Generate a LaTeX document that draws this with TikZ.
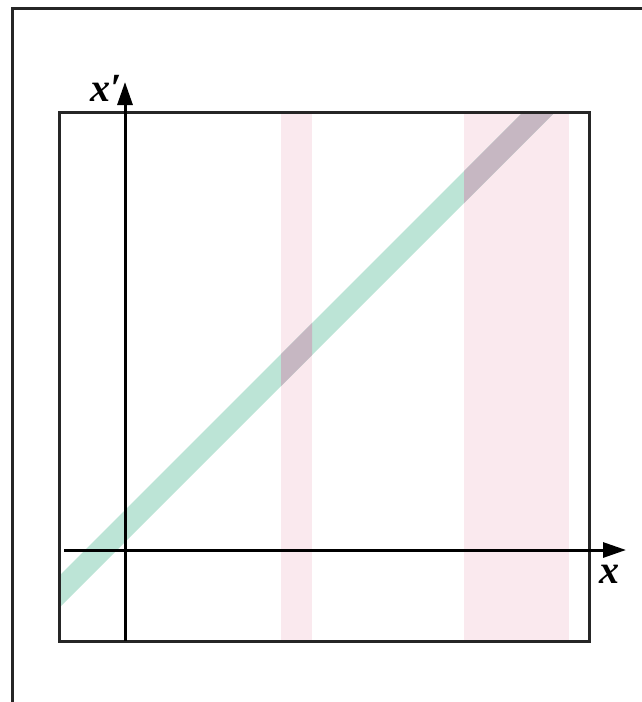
\documentclass[tikz,border=0pt]{standalone}
\usepackage{fontspec}
\setmainfont{Liberation Serif}
\usetikzlibrary{arrows.meta}
\definecolor{bandpink}{RGB}{250,233,238}
\definecolor{bandgreen}{RGB}{188,228,214}
\definecolor{bandover}{RGB}{198,183,194}
\tikzset{
  frame/.style={draw=black!85, line width=3pt},
  axis/.style={draw=black, line width=3pt, -{Triangle[length=23pt,width=15pt]}},
  lbl/.style={font=\fontsize{40}{40}\selectfont\bfseries\itshape, inner sep=0pt}
}
\begin{document}
\begin{tikzpicture}[x=1pt,y=-1pt]
\useasboundingbox (0,0) rectangle (642,702);
% outer frame (extends past page)
\draw[frame] (12,712) -- (12,8) -- (652,8);
% pink bands
\fill[bandpink] (281,112) rectangle (312,641);
\fill[bandpink] (464,112) rectangle (569,641);
% green band
\begin{scope}
\clip (59,112) rectangle (589,641);
\fill[bandgreen] (30,605) -- (600,35) -- (600,67) -- (30,637) -- cycle;
\clip (281,112) rectangle (312,641) (464,112) rectangle (569,641);
\fill[bandover] (30,605) -- (600,35) -- (600,67) -- (30,637) -- cycle;
\end{scope}
% inner square
\draw[frame] (59,112) rectangle (589,641);
% axes
\coordinate (xs) at (64,550);
\coordinate (xe) at (626,550);
\coordinate (ys) at (125,641);
\coordinate (ye) at (125,82);
\draw[axis] (xs) -- (xe);
\draw[axis] (ys) -- (ye);
\node[lbl] (xl) at (609,574) {x};
\node[lbl] (yl) at (106,88) {x′};
\end{tikzpicture}
\end{document}
